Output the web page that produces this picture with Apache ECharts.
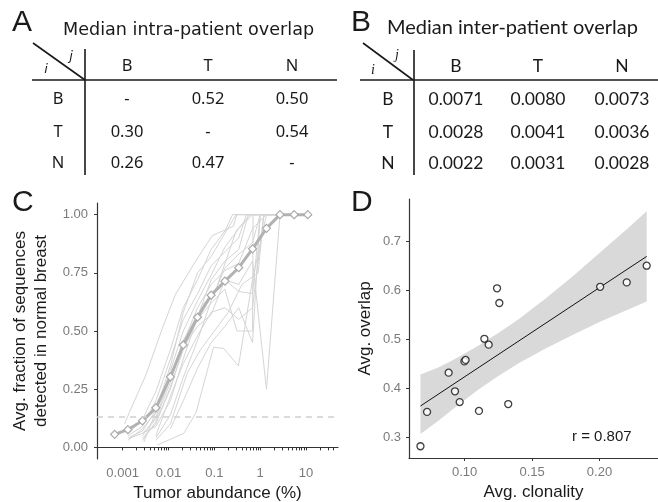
<!DOCTYPE html>
<html>
<head>
<meta charset="utf-8">
<script src="https://cdn.jsdelivr.net/npm/echarts@6/dist/echarts.min.js"></script>
<style>
  html, body { margin: 0; padding: 0; background: #fff; }
  #main { width: 658px; height: 502px; }
</style>
</head>
<body>
<div id="main"></div>
<script>
  // ---- tables A / B ----
  var tableRows = ['B', 'T', 'N'];
  var tableCols = ['B', 'T', 'N'];
  var intraOverlap = [
    ['-', '0.52', '0.50'],
    ['0.30', '-', '0.54'],
    ['0.26', '0.47', '-']
  ];
  var interOverlap = [
    ['0.0071', '0.0080', '0.0073'],
    ['0.0028', '0.0041', '0.0036'],
    ['0.0022', '0.0031', '0.0028']
  ];

  // ---- panel C ----
  var abundance = [0.00067, 0.0013, 0.0027, 0.0053, 0.011, 0.021, 0.043, 0.085, 0.17, 0.34, 0.68, 1.37, 2.7, 5.5, 10.9];
  var medianFraction = [0.056, 0.076, 0.114, 0.17, 0.303, 0.44, 0.559, 0.654, 0.714, 0.772, 0.853, 0.941, 1, 1, 1];
  var detectionLimit = 0.126;
  // one patient per row, [abundance, fraction]
  var patientCurves = [
    [[0.0011, 0.10], [0.0014, 0.15], [0.0032, 0.31], [0.0073, 0.51], [0.014, 0.655], [0.039, 0.80], [0.09, 0.91], [0.26, 0.95], [0.31, 1], [2.7, 1]],
    [[0.0029, 0.023], [0.0073, 0.22], [0.02, 0.425], [0.054, 0.61], [0.105, 0.67], [0.2, 0.83], [0.3, 0.93], [0.6, 1], [2.7, 1]],
    [[0.0013, 0.03], [0.0027, 0.08], [0.0053, 0.15], [0.011, 0.33], [0.021, 0.5], [0.043, 0.63], [0.085, 0.74], [0.17, 0.86], [0.34, 0.94], [0.68, 1], [2.7, 1]],
    [[0.0013, 0.05], [0.0027, 0.09], [0.0053, 0.2], [0.011, 0.38], [0.021, 0.55], [0.043, 0.66], [0.085, 0.78], [0.17, 0.84], [0.34, 0.9], [0.5, 1], [2.7, 1]],
    [[0.0014, 0.04], [0.0027, 0.06], [0.0053, 0.12], [0.011, 0.28], [0.021, 0.45], [0.043, 0.6], [0.085, 0.7], [0.17, 0.76], [0.34, 0.79], [0.68, 0.94], [1.37, 1], [2.7, 1]],
    [[0.0027, 0.04], [0.0053, 0.1], [0.011, 0.26], [0.021, 0.42], [0.043, 0.55], [0.085, 0.62], [0.17, 0.68], [0.31, 0.5], [0.68, 0.5], [0.7, 1], [2.7, 1]],
    [[0.0027, 0.05], [0.0053, 0.13], [0.011, 0.3], [0.021, 0.46], [0.043, 0.57], [0.085, 0.66], [0.17, 0.72], [0.34, 0.7], [0.68, 0.8], [1.37, 0.25], [2.7, 1]],
    [[0.0057, 0.01], [0.0215, 0.06], [0.04, 0.15], [0.096, 0.43], [0.16, 0.425], [0.336, 0.35], [0.68, 0.72], [1.37, 1], [2.7, 1]],
    [[0.0053, 0.03], [0.011, 0.1], [0.0255, 0.318], [0.05, 0.42], [0.1, 0.5], [0.2, 0.58], [0.4, 0.7], [0.9, 0.75], [1.2, 1], [2.7, 1]],
    [[0.0027, 0.06], [0.0053, 0.09], [0.011, 0.2], [0.021, 0.38], [0.043, 0.56], [0.085, 0.72], [0.17, 0.8], [0.34, 0.85], [0.55, 1], [2.7, 1]],
    [[0.0013, 0.04], [0.0027, 0.07], [0.0053, 0.16], [0.011, 0.35], [0.021, 0.58], [0.043, 0.75], [0.085, 0.82], [0.17, 0.92], [0.3, 1], [2.7, 1]],
    [[0.0053, 0.05], [0.011, 0.22], [0.021, 0.36], [0.043, 0.48], [0.085, 0.58], [0.17, 0.6], [0.34, 0.55], [0.68, 0.6], [1.2, 1], [2.7, 1]],
    [[0.0027, 0.03], [0.0053, 0.11], [0.011, 0.25], [0.021, 0.43], [0.043, 0.52], [0.085, 0.57], [0.17, 0.72], [0.34, 0.67], [0.68, 0.66], [1.0, 1], [2.7, 1]],
    [[0.0053, 0.04], [0.011, 0.14], [0.021, 0.3], [0.043, 0.46], [0.085, 0.63], [0.17, 0.77], [0.34, 0.83], [0.68, 0.88], [1.0, 1], [2.7, 1]],
    [[0.011, 0.08], [0.021, 0.2], [0.043, 0.34], [0.085, 0.45], [0.17, 0.52], [0.34, 0.6], [0.68, 0.45], [1.0, 1], [2.7, 1]],
    [[0.0013, 0.06], [0.0027, 0.12], [0.0053, 0.24], [0.011, 0.42], [0.021, 0.6], [0.043, 0.72], [0.085, 0.85], [0.17, 0.93], [0.25, 1], [2.7, 1]]
  ];
  var abundanceTicks = [0.001, 0.01, 0.1, 1, 10];
  var abundanceTickLabels = ['0.001', '0.01', '0.1', '1', '10'];
  var minorMultipliers = [1, 2, 3, 4, 5, 6, 7, 8, 9];
  var fractionTicks = [0, 0.25, 0.5, 0.75, 1];

  // ---- panel D ----
  var clonality = [0.0672, 0.0721, 0.0881, 0.0928, 0.0963, 0.0998, 0.1007, 0.1106, 0.1146, 0.1178, 0.124, 0.1257, 0.1323, 0.2005, 0.2202, 0.235];
  var overlap = [0.282, 0.352, 0.432, 0.394, 0.372, 0.455, 0.458, 0.354, 0.501, 0.489, 0.604, 0.574, 0.368, 0.607, 0.616, 0.650];
  var fitX = [0.0672, 0.235];
  var fitY = [0.364, 0.669];
  var bandX = [0.0672, 0.08, 0.09, 0.10, 0.11, 0.125, 0.14, 0.16, 0.18, 0.20, 0.22, 0.235];
  var bandLow = [0.307, 0.333, 0.355, 0.376, 0.397, 0.425, 0.451, 0.481, 0.509, 0.535, 0.559, 0.577];
  var bandHigh = [0.428, 0.442, 0.456, 0.471, 0.487, 0.513, 0.541, 0.583, 0.628, 0.676, 0.724, 0.761];
  var clonalityTicks = [0.10, 0.15, 0.20];
  var overlapTicks = [0.3, 0.4, 0.5, 0.6, 0.7];
  var corrLabel = 'r = 0.807';

  var SANS = '"Liberation Sans", Arial, sans-serif';
  var axisColor = '#333';
  var labelColor = '#7a7a7a';

  // minor ticks of the log axis
  var abundanceMinor = [];
  abundanceTicks.forEach(function (d) {
    minorMultipliers.forEach(function (m) {
      if (m * d <= 40) abundanceMinor.push(+(m * d).toPrecision(2));
    });
  });

  function buildTable(o) {
    var els = [];
    var line = function (x1, y1, x2, y2) {
      els.push({ type: 'line', silent: true, shape: { x1: x1, y1: y1, x2: x2, y2: y2 },
        style: { stroke: '#1a1a1a', lineWidth: 1.6 } });
    };
    var text = function (x, y, t, font) {
      els.push({ type: 'text', silent: true, x: x, y: y,
        style: { text: t, font: font, fill: '#1a1a1a', align: 'center', verticalAlign: 'middle' } });
    };
    line(o.diag[0], o.diag[1], o.diag[2], o.diag[3]);
    line(o.vx, o.vy0, o.vx, o.vy1);
    line(o.hx0, o.hy, o.hx1, o.hy);
    text(o.jPos[0], o.jPos[1], 'j', o.ijFont);
    text(o.iPos[0], o.iPos[1], 'i', o.ijFont);
    text(o.titlePos[0], o.titlePos[1], o.title, o.titleFont);
    els[els.length - 1].style.align = 'left';
    o.cols.forEach(function (c, k) { text(o.colX[k], o.headY, c, o.cellFont); });
    o.rows.forEach(function (r, i) {
      text(o.rowX, o.rowY[i], r, o.cellFont);
      o.values[i].forEach(function (v, k) { text(o.colX[k], o.rowY[i], v, o.cellFont); });
    });
    return els;
  }

  var graphics = []
    .concat(buildTable({
      diag: [33, 43, 85, 80], vx: 85, vy0: 49, vy1: 175, hx0: 32, hx1: 337, hy: 80,
      jPos: [71, 57], iPos: [46, 70], ijFont: 'italic 13px "DejaVu Sans"',
      title: 'Median intra-patient overlap', titlePos: [63, 30], titleFont: '17.6px "DejaVu Sans"',
      cols: tableCols, colX: [127, 208, 292], headY: 66,
      rows: tableRows, rowX: 58, rowY: [99, 132, 163],
      values: intraOverlap, cellFont: '16.5px "Noto Sans"'
    }))
    .concat(buildTable({
      diag: [363, 43, 413, 80], vx: 414, vy0: 50, vy1: 175, hx0: 360, hx1: 658, hy: 80,
      jPos: [397, 55], iPos: [373, 70], ijFont: 'italic 14px "Liberation Serif"',
      title: 'Median inter-patient overlap', titlePos: [387, 28], titleFont: '20px Lato',
      cols: tableCols, colX: [456, 538, 622], headY: 66,
      rows: tableRows, rowX: 388, rowY: [99, 132, 163],
      values: interOverlap, cellFont: '17.5px Lato'
    }));

  [['A', 12, 23], ['B', 351, 23], ['C', 12, 203], ['D', 351, 203]].forEach(function (p) {
    graphics.push({ type: 'text', silent: true, x: p[1], y: p[2],
      style: { text: p[0], font: '30px ' + SANS, fill: '#1a1a1a', align: 'left', verticalAlign: 'middle' } });
  });
  graphics.push({ type: 'text', silent: true, x: 572, y: 437,
    style: { text: corrLabel, font: '15px ' + SANS, fill: '#1a1a1a', align: 'left', verticalAlign: 'middle' } });

  var series = [];
  patientCurves.forEach(function (pts) {
    series.push({ type: 'line', xAxisIndex: 0, yAxisIndex: 0, data: pts, showSymbol: false, silent: true,
      lineStyle: { color: '#d5d5d5', width: 1 }, z: 2, animation: false });
  });
  series.push({
    type: 'line', xAxisIndex: 0, yAxisIndex: 0, z: 4, animation: false, silent: true,
    data: abundance.map(function (x, i) { return [x, medianFraction[i]]; }),
    symbol: 'diamond', symbolSize: [8, 8],
    itemStyle: { color: '#fff', borderColor: '#aaaaaa', borderWidth: 1.2 },
    lineStyle: { color: '#b2b2b2', width: 3 },
    markLine: { silent: true, symbol: 'none', label: { show: false },
      lineStyle: { color: '#cfcfcf', type: [6, 5], width: 1.5 },
      data: [{ yAxis: detectionLimit }] }
  });
  // confidence band as a polygon through the library's coordinates
  series.push({
    type: 'custom', xAxisIndex: 1, yAxisIndex: 1, silent: true, animation: false, z: 1,
    data: bandX.map(function (x, i) { return [x, bandLow[i], bandHigh[i]]; }),
    encode: { x: 0, y: [1, 2] },
    renderItem: function (params, api) {
      if (params.dataIndex !== 0) return;
      var upper = bandX.map(function (x, i) { return api.coord([x, bandHigh[i]]); });
      var lower = bandX.map(function (x, i) { return api.coord([x, bandLow[i]]); }).reverse();
      return { type: 'polygon', shape: { points: upper.concat(lower) },
        style: { fill: '#d9d9d9', stroke: null } };
    }
  });
  series.push({
    type: 'line', xAxisIndex: 1, yAxisIndex: 1, silent: true, animation: false,
    data: fitX.map(function (x, i) { return [x, fitY[i]]; }),
    showSymbol: false, lineStyle: { color: '#111', width: 1 }, z: 3
  });
  series.push({
    type: 'scatter', xAxisIndex: 1, yAxisIndex: 1, silent: true, animation: false,
    data: clonality.map(function (x, i) { return [x, overlap[i]]; }),
    symbol: 'circle', symbolSize: 7,
    itemStyle: { color: '#fff', borderColor: '#111', borderWidth: 1.3 }, z: 5
  });

  function baseAxis(extra) {
    var a = {
      axisLine: { show: true, lineStyle: { color: axisColor, width: 1.2 } },
      axisTick: { show: true, length: 3, lineStyle: { color: axisColor } },
      axisLabel: { color: labelColor, fontSize: 13, fontFamily: SANS },
      splitLine: { show: false },
      nameLocation: 'middle',
      nameTextStyle: { color: '#1a1a1a', fontSize: 17, fontFamily: SANS }
    };
    return echarts.util.merge(a, extra, true);
  }

  var chart = echarts.init(document.getElementById('main'), null, { renderer: 'canvas' });
  chart.setOption({
    animation: false,
    backgroundColor: '#fff',
    grid: [
      { left: 97, top: 203, width: 241, height: 256, outerBoundsMode: 'none', containLabel: false },
      { left: 409, top: 199, width: 249, height: 259, outerBoundsMode: 'none', containLabel: false }
    ],
    xAxis: [
      baseAxis({
        type: 'log', gridIndex: 0, min: 0.000276, max: 49.7,
        name: 'Tumor abundance (%)', nameGap: 25,
        axisTick: { customValues: abundanceMinor },
        axisLabel: { customValues: abundanceTicks, margin: 8,
          formatter: function (v) {
            var k = abundanceTicks.findIndex(function (t) { return Math.abs(Math.log10(t / v)) < 0.01; });
            return k >= 0 ? abundanceTickLabels[k] : '';
          } }
      }),
      baseAxis({
        type: 'value', gridIndex: 1, min: 0.0587, max: 0.2434,
        name: 'Avg. clonality', nameGap: 22,
        axisTick: { customValues: clonalityTicks },
        axisLabel: { customValues: clonalityTicks, margin: 8,
          formatter: function (v) { return v.toFixed(2); } }
      })
    ],
    yAxis: [
      baseAxis({
        type: 'value', gridIndex: 0, min: -0.05, max: 1.05,
        name: 'Avg. fraction of sequences\ndetected in normal breast', nameGap: 45, nameRotate: 90,
        nameTextStyle: { lineHeight: 21 },
        axisTick: { customValues: fractionTicks },
        axisLabel: { customValues: fractionTicks, margin: 9,
          formatter: function (v) { return v.toFixed(2); } }
      }),
      baseAxis({
        type: 'value', gridIndex: 1, min: 0.258, max: 0.786,
        name: 'Avg. overlap', nameGap: 35, nameRotate: 90,
        axisTick: { customValues: overlapTicks },
        axisLabel: { customValues: overlapTicks, margin: 8,
          formatter: function (v) { return v.toFixed(1); } }
      })
    ],
    graphic: graphics,
    series: series
  });
</script>
</body>
</html>
